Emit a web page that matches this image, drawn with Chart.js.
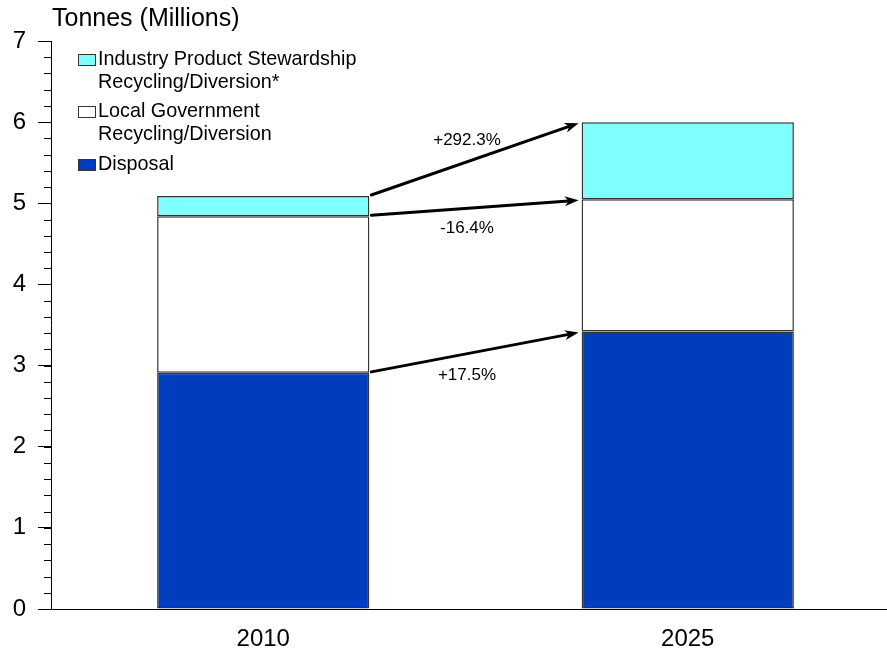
<!DOCTYPE html>
<html><head><meta charset="utf-8">
<script src="https://cdn.jsdelivr.net/npm/chart.js@4.4.1/dist/chart.umd.min.js"></script>
<style>
html,body{margin:0;padding:0;background:#fff;overflow:hidden;width:887px;height:652px;}
#wrap{width:900px;height:652px;position:relative;}
</style></head>
<body>
<div id="wrap"><canvas id="c" width="900" height="652"></canvas></div>
<script>
const years = ['2010', '2025'];
const disposal = [2.91, 3.42];
const localGov = [1.93, 1.63];
const industry = [0.25, 0.95];
const changeLabels = ['+17.5%', '-16.4%', '+292.3%']; // disposal, local, industry
const seriesNames = [['Industry Product Stewardship', 'Recycling/Diversion*'], ['Local Government', 'Recycling/Diversion'], ['Disposal']];
const yTitle = 'Tonnes (Millions)';

const FONT = '"Liberation Sans", Arial, sans-serif';
const BLUE = '#003DBC', CYAN = '#80FFFF', EDGE = '#333333';

const overlay = {
  id: 'overlay',
  afterDraw(chart) {
    const ctx = chart.ctx, y = chart.scales.y;
    ctx.save();
    // minor ticks
    ctx.strokeStyle = '#000'; ctx.lineWidth = 1;
    for (let v = 0; v <= 7.0001; v += 0.2) {
      const p = Math.round(y.getPixelForValue(v)) + 0.5;
      ctx.beginPath(); ctx.moveTo(44, p); ctx.lineTo(51, p); ctx.stroke();
    }
    // title
    ctx.fillStyle = '#000'; ctx.font = '25px ' + FONT; ctx.textBaseline = 'middle'; ctx.textAlign = 'left';
    ctx.fillText(yTitle, 52, 19);
    // legend
    const fills = [CYAN, '#ffffff', BLUE];
    const rows = [60, 112, 165];
    ctx.font = '19.8px ' + FONT;
    seriesNames.forEach((lines, i) => {
      ctx.fillStyle = fills[i]; ctx.strokeStyle = EDGE; ctx.lineWidth = 1;
      ctx.fillRect(78.5, rows[i] - 5.5, 17, 11);
      ctx.strokeRect(78.5, rows[i] - 5.5, 17, 11);
      ctx.fillStyle = '#000';
      lines.forEach((t, k) => ctx.fillText(t, 98, rows[i] + k * 23));
    });
    // arrows
    const ds = [0, 1, 2];
    const labelOff = [23, 21, -19];
    ds.forEach((d, i) => {
      const meta = chart.getDatasetMeta(d);
      const a = meta.data[0], b = meta.data[1];
      const x1 = a.x + a.width / 2 + 2, y1 = a.y - 1;
      const x2 = b.x - b.width / 2 - 3, y2 = b.y + 1;
      const ang = Math.atan2(y2 - y1, x2 - x1);
      const L = 14, W = 5;
      const bx = x2 - L * Math.cos(ang), by = y2 - L * Math.sin(ang);
      ctx.strokeStyle = '#000'; ctx.lineWidth = 3; ctx.lineCap = 'round';
      ctx.beginPath(); ctx.moveTo(x1, y1); ctx.lineTo(bx + 4 * Math.cos(ang), by + 4 * Math.sin(ang)); ctx.stroke();
      ctx.fillStyle = '#000';
      ctx.beginPath();
      ctx.moveTo(x2, y2);
      ctx.lineTo(bx - W * Math.sin(ang), by + W * Math.cos(ang));
      ctx.lineTo(bx + 4 * Math.cos(ang), by + 4 * Math.sin(ang));
      ctx.lineTo(bx + W * Math.sin(ang), by - W * Math.cos(ang));
      ctx.closePath(); ctx.fill();
      const mx = (x1 + x2) / 2, my = (y1 + y2) / 2;
      ctx.font = '17px ' + FONT; ctx.textAlign = 'center';
      ctx.fillText(changeLabels[i], mx - 8, my + labelOff[i]);
      ctx.textAlign = 'left';
    });
    ctx.restore();
  }
};

new Chart(document.getElementById('c'), {
  type: 'bar',
  data: {
    labels: years,
    datasets: [
      { label: 'Disposal', data: disposal, backgroundColor: BLUE, borderColor: EDGE, borderWidth: 1.5, borderSkipped: false },
      { label: 'Local Government Recycling/Diversion', data: localGov, backgroundColor: '#ffffff', borderColor: EDGE, borderWidth: 1.5, borderSkipped: false },
      { label: 'Industry Product Stewardship Recycling/Diversion*', data: industry, backgroundColor: CYAN, borderColor: EDGE, borderWidth: 1.5, borderSkipped: false }
    ]
  },
  options: {
    responsive: false, animation: false, devicePixelRatio: 1,
    layout: { padding: { top: 41, left: 0, right: 0, bottom: 0 } },
    plugins: { legend: { display: false }, tooltip: { enabled: false } },
    datasets: { bar: { barPercentage: 0.5, categoryPercentage: 1.0 } },
    scales: {
      x: {
        stacked: true,
        grid: { display: false, drawTicks: false },
        border: { display: true, color: '#000', width: 1 },
        ticks: { color: '#000', font: { size: 24, family: FONT }, padding: 16 },
        afterFit(s) { s.height = 43; }
      },
      y: {
        stacked: true, min: 0, max: 7,
        grid: { drawOnChartArea: false, drawTicks: true, tickLength: 13, color: '#000' },
        border: { display: true, color: '#000', width: 1 },
        ticks: { stepSize: 1, color: '#000', font: { size: 24, family: FONT }, padding: 12 },
        afterFit(s) { s.width = 51; }
      }
    }
  },
  plugins: [overlay]
});
</script>
</body></html>
